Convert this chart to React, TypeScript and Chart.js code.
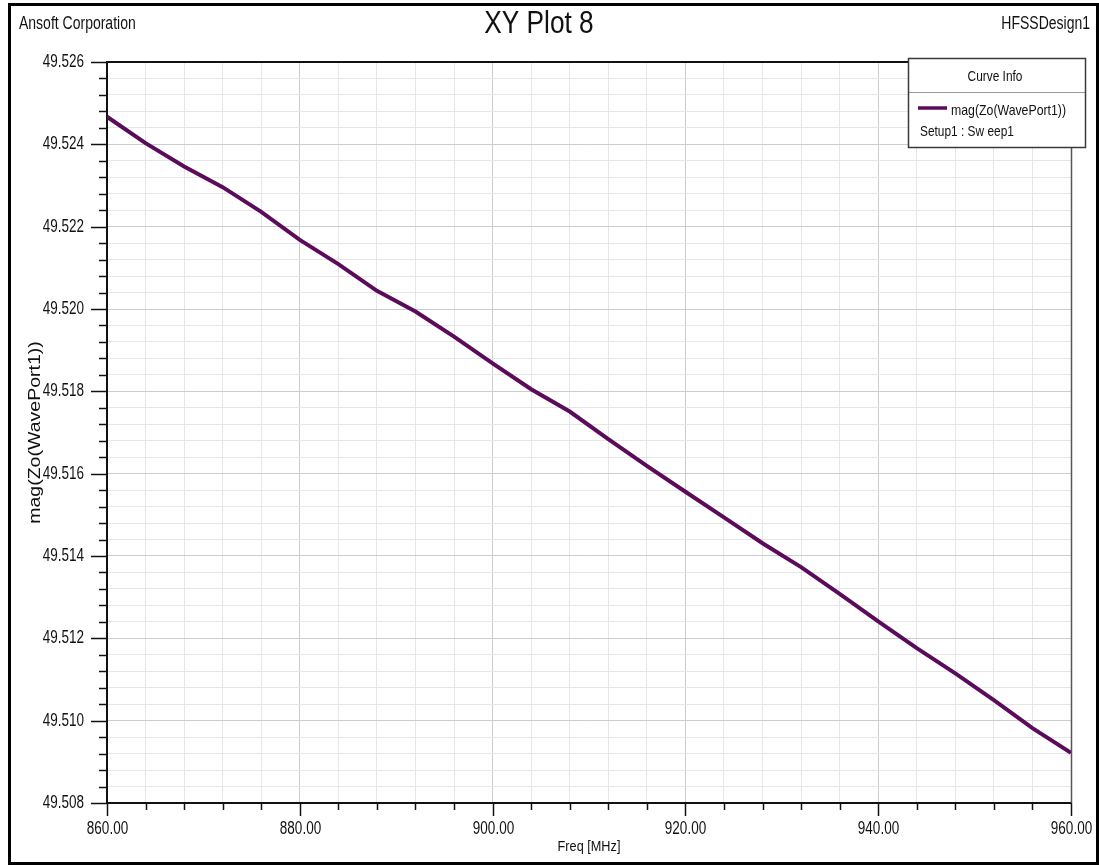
import React, { useEffect, useRef } from 'react';
import { Chart, registerables } from 'chart.js';

Chart.register(...registerables);

// ---- data ----
const FREQS_MHZ = [
  860, 864, 868, 872, 876, 880, 884, 888, 892, 896, 900, 904, 908,
  912, 916, 920, 924, 928, 932, 936, 940, 944, 948, 952, 956, 960,
];
const ZO_MAG = [
  49.52467, 49.52403, 49.52346, 49.52296, 49.52236, 49.52168, 49.52109,
  49.52044, 49.51994, 49.51933, 49.51868, 49.51805, 49.51751, 49.51684,
  49.51619, 49.51556, 49.51494, 49.51431, 49.51373, 49.51308, 49.51241,
  49.51176, 49.51115, 49.51050, 49.50982, 49.50922,
];

const X_MIN = 860;
const X_MAX = 960;
const X_MINOR_STEP = 4;
const X_MAJOR_STEP = 20;
const Y_MIN = 49.508;
const Y_MAX = 49.526;
const Y_MINOR_STEP = 0.0004;
const Y_MAJOR_STEP = 0.002;

const TITLE = 'XY Plot 8';
const COMPANY = 'Ansoft Corporation';
const DESIGN = 'HFSSDesign1';
const X_TITLE = 'Freq [MHz]';
const Y_TITLE = 'mag(Zo(WavePort1))';
const LEGEND_HEADER = 'Curve Info';
const SERIES_NAME = 'mag(Zo(WavePort1))';
const SERIES_SETUP = 'Setup1 : Sw eep1';

const LINE_COLOR = '#5a0c5a';
const FONT = '"Liberation Sans", Arial, sans-serif';

const isMajor = (v: number, step: number) =>
  Math.abs(v / step - Math.round(v / step)) < 1e-6;
const xLabel = (v: number) => (isMajor(v, X_MAJOR_STEP) ? v.toFixed(2) : '');
const yLabel = (v: number) => (isMajor(v, Y_MAJOR_STEP) ? v.toFixed(3) : '');

function drawText(
  ctx: CanvasRenderingContext2D,
  s: string,
  x: number,
  y: number,
  size: number,
  align: CanvasTextAlign,
  sx = 0.82,
  rot = 0,
  baseline: CanvasTextBaseline = 'alphabetic'
) {
  ctx.save();
  ctx.translate(x, y);
  if (rot) ctx.rotate(rot);
  ctx.scale(sx, 1);
  ctx.font = `${size}px ${FONT}`;
  ctx.textAlign = align;
  ctx.textBaseline = baseline;
  ctx.fillStyle = '#111111';
  ctx.fillText(s, 0, 0);
  ctx.restore();
}

const decorPlugin = {
  id: 'hfssDecor',
  beforeDraw(chart: any) {
    const { ctx, width, height } = chart;
    ctx.save();
    ctx.fillStyle = '#ffffff';
    ctx.fillRect(0, 0, width, height);
    ctx.restore();
  },
  afterDraw(chart: any) {
    const { ctx, chartArea } = chart;
    const xs = chart.scales.x;
    const ys = chart.scales.y;
    const { left, right, top, bottom } = chartArea;

    ctx.save();
    // tick marks and tick labels, positioned by the chart's scales
    ctx.strokeStyle = '#111111';
    ctx.lineWidth = 1.5;
    ys.ticks.forEach((t: any) => {
      const p = Math.round(ys.getPixelForValue(t.value)) + 0.5;
      const major = isMajor(t.value, Y_MAJOR_STEP);
      const len = major ? 16 : 8;
      ctx.beginPath();
      ctx.moveTo(left - len, p);
      ctx.lineTo(left, p);
      ctx.stroke();
      if (major) drawText(ctx, yLabel(t.value), 84, p, 18, 'right', 0.75, 0, 'middle');
    });
    xs.ticks.forEach((t: any) => {
      const p = Math.round(xs.getPixelForValue(t.value)) + 0.5;
      const major = isMajor(t.value, X_MAJOR_STEP);
      const len = major ? 13 : 7;
      ctx.beginPath();
      ctx.moveTo(p, bottom);
      ctx.lineTo(p, bottom + len);
      ctx.stroke();
      if (major) drawText(ctx, xLabel(t.value), p, 834, 18, 'center', 0.75);
    });
    // top and right frame of the plot
    ctx.strokeStyle = '#111111';
    ctx.lineWidth = 2;
    ctx.beginPath();
    ctx.moveTo(left, Math.round(top));
    ctx.lineTo(right, Math.round(top));
    ctx.stroke();
    ctx.strokeStyle = '#555555';
    ctx.lineWidth = 1.5;
    ctx.beginPath();
    ctx.moveTo(Math.round(right) + 0.5, top);
    ctx.lineTo(Math.round(right) + 0.5, bottom);
    ctx.stroke();

    // header texts
    drawText(ctx, COMPANY, 19, 29, 17.5, 'left', 0.8);
    drawText(ctx, DESIGN, 1090, 29, 17.5, 'right', 0.8);
    drawText(ctx, TITLE, 539, 33, 32, 'center');

    // axis titles
    drawText(ctx, X_TITLE, (left + right) / 2, 851, 15.5, 'center');
    drawText(ctx, Y_TITLE, 36, (top + bottom) / 2, 16, 'center', 1.22, -Math.PI / 2, 'middle');

    // legend box
    const lx = 908, ly = 58, lw = 177, lh = 89;
    ctx.fillStyle = '#ffffff';
    ctx.fillRect(lx, ly, lw, lh);
    ctx.strokeStyle = '#9a9a9a';
    ctx.lineWidth = 1;
    ctx.beginPath();
    ctx.moveTo(lx, 92.5);
    ctx.lineTo(lx + lw, 92.5);
    ctx.stroke();
    ctx.strokeStyle = '#3a3a3a';
    ctx.lineWidth = 1.5;
    ctx.strokeRect(lx + 0.5, ly + 0.5, lw, lh);
    drawText(ctx, LEGEND_HEADER, 995, 81, 14.5, 'center');
    ctx.strokeStyle = LINE_COLOR;
    ctx.lineWidth = 3.5;
    ctx.beginPath();
    ctx.moveTo(918, 108);
    ctx.lineTo(947, 108);
    ctx.stroke();
    drawText(ctx, SERIES_NAME, 951, 115, 15, 'left');
    drawText(ctx, SERIES_SETUP, 920, 136, 14.5, 'left');

    // outer frame
    ctx.fillStyle = '#000000';
    ctx.fillRect(8, 3, 3, 862);
    ctx.fillRect(8, 3, 1091, 3);
    ctx.fillRect(1096, 3, 3, 862);
    ctx.fillRect(8, 862, 1091, 3);
    ctx.restore();
  },
};

export default function App() {
  const canvasRef = useRef<HTMLCanvasElement | null>(null);

  useEffect(() => {
    const canvas = canvasRef.current;
    if (!canvas) return;
    const points = FREQS_MHZ.map((f, i) => ({ x: f, y: ZO_MAG[i] }));
    const chart = new Chart(canvas, {
      type: 'line',
      data: {
        datasets: [
          {
            label: SERIES_NAME,
            data: points,
            borderColor: LINE_COLOR,
            backgroundColor: LINE_COLOR,
            borderWidth: 4,
            pointRadius: 0,
            tension: 0,
            fill: false,
          },
        ],
      },
      options: {
        responsive: false,
        animation: false,
        devicePixelRatio: 1,
        layout: { padding: { left: 10, right: 28, top: 62, bottom: 2 } },
        plugins: {
          legend: { display: false },
          title: { display: false },
          tooltip: { enabled: false },
        },
        scales: {
          x: {
            type: 'linear',
            min: X_MIN,
            max: X_MAX,
            afterFit: (s: any) => {
              s.height = 60;
              s.paddingLeft = 0;
              s.paddingRight = 0;
            },
            ticks: {
              display: false,
              stepSize: X_MINOR_STEP,
              autoSkip: false,
              maxRotation: 0,
              callback: (v: any) => xLabel(Number(v)),
            },
            grid: {
              drawTicks: false,
              lineWidth: 1,
              color: (c: any) => (c.tick && isMajor(c.tick.value, X_MAJOR_STEP) ? '#cdcdcd' : '#e6e6e6'),
            },
            border: { display: true, color: '#111111', width: 2 },
          },
          y: {
            type: 'linear',
            min: Y_MIN,
            max: Y_MAX,
            afterFit: (s: any) => {
              s.width = 97;
              s.paddingTop = 0;
              s.paddingBottom = 0;
            },
            ticks: {
              display: false,
              stepSize: Y_MINOR_STEP,
              autoSkip: false,
              callback: (v: any) => yLabel(Number(v)),
            },
            grid: {
              drawTicks: false,
              lineWidth: 1,
              color: (c: any) => (c.tick && isMajor(c.tick.value, Y_MAJOR_STEP) ? '#cdcdcd' : '#e6e6e6'),
            },
            border: { display: true, color: '#111111', width: 2 },
          },
        },
      },
      plugins: [decorPlugin],
    });
    return () => chart.destroy();
  }, []);

  return (
    <div style={{ position: 'absolute', left: 0, top: 0, width: 1099, height: 865 }}>
      <canvas ref={canvasRef} width={1099} height={865} style={{ display: 'block' }} />
    </div>
  );
}
